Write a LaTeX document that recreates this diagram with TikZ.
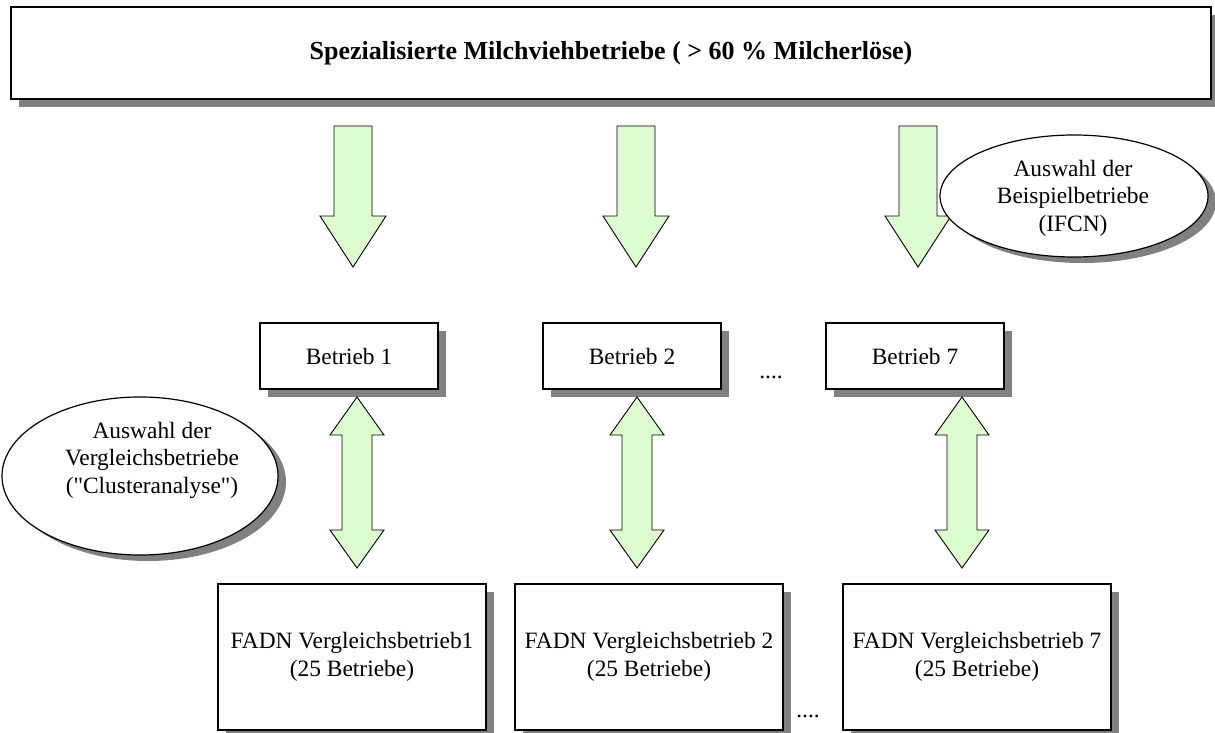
\documentclass[tikz,border=0pt]{standalone}
\usepackage{fontspec}
\setmainfont{Liberation Serif}
\usetikzlibrary{shapes.geometric,shadows}
\definecolor{arrowgreen}{RGB}{221,252,208}
\newcommand{\straightquote}{\XeTeXglyph\XeTeXcharglyph"22\relax}
\tikzset{
  boxshadow/.style={drop shadow={shadow xshift=8pt,shadow yshift=-8pt,fill=black!50,opacity=1}},
  ellshadow/.style={drop shadow={shadow xshift=8pt,shadow yshift=-6pt,fill=black!50,opacity=1}},
  txt/.style={font=\fontsize{23.4}{27.5}\selectfont,align=center},
  box/.style={draw=black,line width=1.2pt,fill=white,rectangle,inner sep=0pt,boxshadow,txt},
  oval/.style={draw=black,line width=1.2pt,fill=white,ellipse,inner sep=0pt,ellshadow,txt},
  blockarrow/.style={draw=black,line width=0.9pt,fill=arrowgreen,line join=miter},
  dots/.style={txt}
}
\newcommand{\blockdown}[1]{\filldraw[blockarrow] (#1-19,126) -- (#1+19,126) -- (#1+19,216) -- (#1+33,216) -- (#1,267) -- (#1-33,216) -- (#1-19,216) -- cycle;}
\newcommand{\blockboth}[1]{\filldraw[blockarrow] (#1,397) -- (#1+27,435) -- (#1+15,435) -- (#1+15,530) -- (#1+27,530) -- (#1,568) -- (#1-27,530) -- (#1-15,530) -- (#1-15,435) -- (#1-27,435) -- cycle;}
\begin{document}
\begin{tikzpicture}[x=1pt,y=-1pt]
\useasboundingbox[fill=white] (0,0) rectangle (1215,733);
% top box
\node[box,minimum width=1200pt,minimum height=92pt,font=\fontsize{26}{30}\selectfont\bfseries] (top) at (611,53) {Spezialisierte Milchviehbetriebe ( > 60 \% Milcherlöse)};
% down arrows
\blockdown{353}
\blockdown{636}
\blockdown{918}
% IFCN ellipse
\node[oval,minimum width=268pt,minimum height=122pt] (ifcn) at (1074,196) {};
\node[txt] (ifcntxt) at (1073,198) {Auswahl der\\Beispielbetriebe\\(IFCN)};
% Betrieb boxes
\node[box,minimum width=178pt,minimum height=66pt] (b1) at (349,356) {Betrieb 1};
\node[box,minimum width=178pt,minimum height=66pt] (b2) at (632,356) {Betrieb 2};
\node[box,minimum width=178pt,minimum height=66pt] (b7) at (915,356) {Betrieb 7};
\node[dots] (d1) at (771,377) {....};
% double arrows
\blockboth{357}
\blockboth{637}
\blockboth{962}
% Vergleich ellipse
\node[oval,minimum width=276pt,minimum height=158pt] (verg) at (140,476) {};
\node[txt] (vergtxt) at (152,460) {Auswahl der\\Vergleichsbetriebe\\(\straightquote Clusteranalyse\straightquote)};
% FADN boxes
\node[box,minimum width=268pt,minimum height=146pt] (f1) at (352,657) {FADN Vergleichsbetrieb1\\(25 Betriebe)};
\node[box,minimum width=268pt,minimum height=146pt] (f2) at (649,657) {FADN Vergleichsbetrieb 2\\(25 Betriebe)};
\node[box,minimum width=268pt,minimum height=146pt] (f7) at (977,657) {FADN Vergleichsbetrieb 7\\(25 Betriebe)};
\node[dots] (d2) at (808,716) {....};
\end{tikzpicture}
\end{document}
